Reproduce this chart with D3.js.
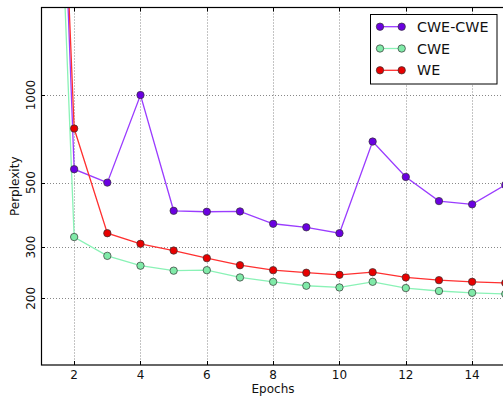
<!DOCTYPE html>
<html>
<head>
<meta charset="utf-8">
<script src="https://cdn.jsdelivr.net/npm/d3@7"></script>
<style>
  body { margin: 0; background: #fff; }
  svg { display: block; font-family: "DejaVu Sans", sans-serif; }
</style>
</head>
<body>
<svg id="chart"></svg>
<script>
// Data (perplexity per epoch, log scale)
const epochs = [1, 2, 3, 4, 5, 6, 7, 8, 9, 10, 11, 12, 13, 14, 15];
const cweCwe = [600000, 556, 500, 1000, 400, 397, 398, 361, 351, 335, 692, 523, 432, 421, 491];
const cwe = [250000, 325, 280, 259, 249, 250, 236, 228, 221, 218, 228, 217, 212, 209, 207];
const we = [450000, 767, 335, 308, 292, 275, 260, 250, 245, 241, 246, 236, 231, 228, 226];

const xTicks = [2, 4, 6, 8, 10, 12, 14];
const yTicks = [200, 300, 500, 1000];

const series = [
    { name: "CWE-CWE", values: cweCwe, line: "#9a3cff", fill: "#6a00e0" },
    { name: "CWE", values: cwe, line: "#8af2b6", fill: "#80eaa8" },
    { name: "WE", values: we, line: "#ff3030", fill: "#e80000" },
];

const width = 503;
const height = 396;
const plot = { left: 41, right: 505.3, top: 7.5, bottom: 365 };

const svg = d3.select("#chart").attr("width", width).attr("height", height);

const x = d3.scaleLinear().domain([1, 15]).range([plot.left, plot.right]);
const y = d3.scaleLog().domain([118, 2000]).range([plot.bottom, plot.top]);

svg.append("defs").append("clipPath").attr("id", "clip")
    .append("rect")
    .attr("x", plot.left).attr("y", plot.top)
    .attr("width", plot.right - plot.left).attr("height", plot.bottom - plot.top);

// Dotted grid
const grid = svg.append("g").attr("stroke", "#888").attr("stroke-width", 1)
    .attr("stroke-dasharray", "1,2");
grid.selectAll("line.gx").data(xTicks).enter().append("line")
    .attr("x1", (d) => Math.round(x(d)) + 0.5).attr("x2", (d) => Math.round(x(d)) + 0.5)
    .attr("y1", plot.top).attr("y2", plot.bottom);
grid.selectAll("line.gy").data(yTicks).enter().append("line")
    .attr("y1", (d) => Math.round(y(d)) + 0.5).attr("y2", (d) => Math.round(y(d)) + 0.5)
    .attr("x1", plot.left).attr("x2", plot.right);

// Lines and markers
const lineGen = d3.line().x((d, i) => x(epochs[i])).y((d) => y(d));
const marks = svg.append("g").attr("clip-path", "url(#clip)");
series.forEach((s) => {
    marks.append("path")
        .attr("d", lineGen(s.values))
        .attr("fill", "none")
        .attr("stroke", s.line)
        .attr("stroke-width", 1.3);
});
series.forEach((s) => {
    marks.selectAll(null).data(s.values).enter().append("circle")
        .attr("cx", (d, i) => x(epochs[i]))
        .attr("cy", (d) => y(d))
        .attr("r", 3.7)
        .attr("fill", s.fill)
        .attr("stroke", "#333")
        .attr("stroke-width", 0.7);
});

// Frame
svg.append("rect")
    .attr("x", plot.left + 0.5).attr("y", plot.top)
    .attr("width", plot.right - plot.left).attr("height", plot.bottom - plot.top)
    .attr("fill", "none").attr("stroke", "#000").attr("stroke-width", 1.2);

// Inward ticks
const ticks = svg.append("g").attr("stroke", "#000").attr("stroke-width", 1);
xTicks.forEach((t) => {
    const px = Math.round(x(t)) + 0.5;
    ticks.append("line").attr("x1", px).attr("x2", px).attr("y1", plot.bottom).attr("y2", plot.bottom - 4);
    ticks.append("line").attr("x1", px).attr("x2", px).attr("y1", plot.top).attr("y2", plot.top + 4);
});
yTicks.forEach((t) => {
    const py = Math.round(y(t)) + 0.5;
    ticks.append("line").attr("x1", plot.left).attr("x2", plot.left + 4).attr("y1", py).attr("y2", py);
});

// Tick labels
svg.append("g").selectAll("text").data(xTicks).enter().append("text")
    .attr("x", (d) => x(d)).attr("y", 378.5)
    .attr("text-anchor", "middle").attr("font-size", 12).attr("fill", "#111")
    .text((d) => d);
svg.append("g").selectAll("text").data(yTicks).enter().append("text")
    .attr("transform", (d) => `translate(34.5,${y(d)}) rotate(-90)`)
    .attr("text-anchor", "middle").attr("font-size", 12).attr("fill", "#111")
    .text((d) => d);

// Axis titles
svg.append("text").attr("x", (plot.left + 503) / 2 + 1).attr("y", 393)
    .attr("text-anchor", "middle").attr("font-size", 12).attr("fill", "#111")
    .text("Epochs");
svg.append("text")
    .attr("transform", `translate(18.5,${(plot.top + plot.bottom) / 2}) rotate(-90)`)
    .attr("text-anchor", "middle").attr("font-size", 12).attr("fill", "#111")
    .text("Perplexity");

// Legend
const legend = svg.append("g");
legend.append("rect")
    .attr("x", 370.5).attr("y", 14.5).attr("width", 126.5).attr("height", 69.5)
    .attr("fill", "#fff").attr("stroke", "#000").attr("stroke-width", 1);
series.forEach((s, i) => {
    const cy = 26.7 + i * 21.8;
    legend.append("line").attr("x1", 380).attr("x2", 401.7).attr("y1", cy).attr("y2", cy)
        .attr("stroke", s.line).attr("stroke-width", 1.3);
    [380, 401.7].forEach((cx) => {
        legend.append("circle").attr("cx", cx).attr("cy", cy).attr("r", 3.7)
            .attr("fill", s.fill).attr("stroke", "#333").attr("stroke-width", 0.7);
    });
    legend.append("text").attr("x", 417).attr("y", cy + 5.1)
        .attr("font-size", 14.3).attr("fill", "#111").text(s.name);
});
</script>
</body>
</html>
